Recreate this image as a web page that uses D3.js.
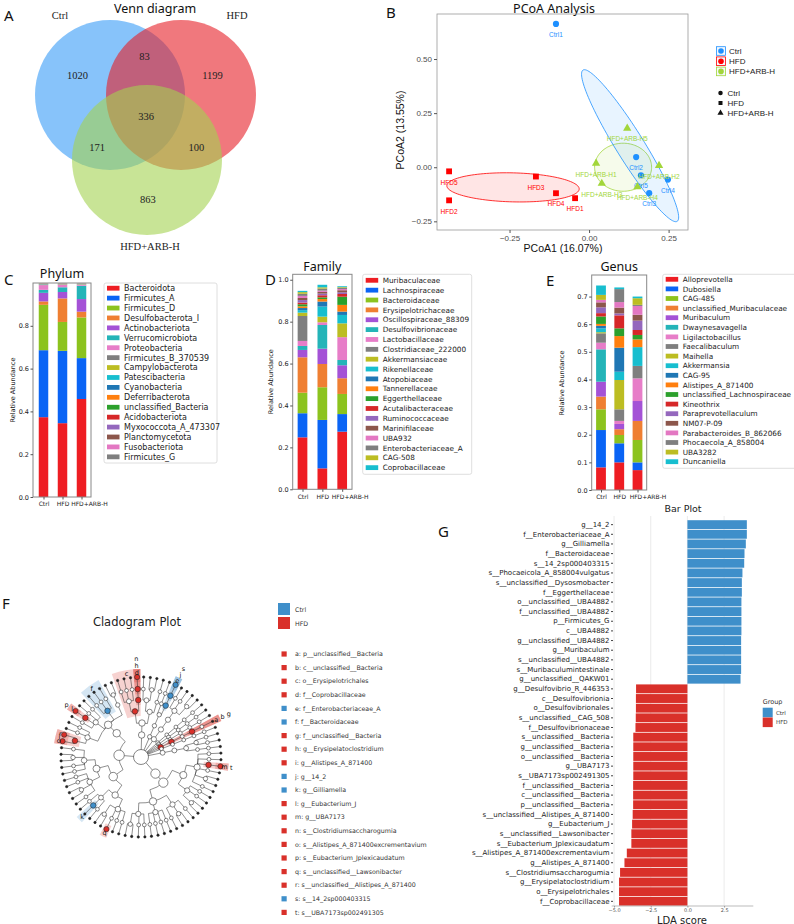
<!DOCTYPE html>
<html>
<head>
<meta charset="utf-8">
<script src="https://cdn.jsdelivr.net/npm/d3@7"></script>
<style>
  body { margin: 0; background: #fff; }
  svg { display: block; }
</style>
</head>
<body>
<svg id="fig" width="794" height="924"></svg>
<script>
// ---------------- data ----------------
const samples = ["Ctrl", "HFD", "HFD+ARB-H"];

// A. Venn
const vennSets = ["Ctrl", "HFD", "HFD+ARB-H"];
const vennRegions = [["Ctrl"], ["HFD"], ["HFD+ARB-H"], ["Ctrl", "HFD"], ["Ctrl", "HFD+ARB-H"], ["HFD", "HFD+ARB-H"], ["Ctrl", "HFD", "HFD+ARB-H"]];
const vennCounts = [1020, 1199, 863, 83, 171, 100, 336];

// B. PCoA
const pcoaSamples = ["Ctrl1", "Ctrl2", "Ctrl3", "Ctrl4", "Ctrl5", "HFD1", "HFD2", "HFD3", "HFD4", "HFD5",
  "HFD+ARB-H1", "HFD+ARB-H2", "HFD+ARB-H3", "HFD+ARB-H4", "HFD+ARB-H5"];
const pcoaGroups = ["Ctrl", "Ctrl", "Ctrl", "Ctrl", "Ctrl", "HFD", "HFD", "HFD", "HFD", "HFD",
  "HFD+ARB-H", "HFD+ARB-H", "HFD+ARB-H", "HFD+ARB-H", "HFD+ARB-H"];
const pcoa1 = [-0.104, 0.148, 0.189, 0.248, 0.163, -0.044, -0.44, -0.167, -0.104, -0.44, 0.022, 0.22, 0.04, 0.152, 0.12];
const pcoa2 = [0.662, 0.047, -0.12, -0.057, -0.037, -0.143, -0.153, -0.043, -0.12, -0.019, 0.018, 0.008, -0.075, -0.091, 0.18];
// confidence ellipses: centre and two semi-axis vectors, in PCoA units
const ellipseGroups = ["HFD", "HFD+ARB-H", "Ctrl"];
const ellipseCentre = [[-0.239, -0.093], [0.107, 0.0], [0.129, 0.0995]];
const ellipseAxisA = [[0.208, -0.0076], [0.0896, 0], [0.148, -0.3495]];
const ellipseAxisB = [[0.0011, 0.067], [0, 0.111], [0.0374, 0.0343]];
const pcoaTicksX = [-0.25, 0, 0.25];
const pcoaTicksY = [-0.25, 0, 0.25, 0.5];

// C. Phylum
const phylumTaxa = ["Bacteroidota", "Firmicutes_A", "Firmicutes_D", "Desulfobacterota_I", "Actinobacteriota", "Verrucomicrobiota",
  "Proteobacteria", "Firmicutes_B_370539", "Campylobacterota", "Patescibacteria", "Cyanobacteria", "Deferribacterota",
  "unclassified_Bacteria", "Acidobacteriota", "Myxococcota_A_473307", "Planctomycetota", "Fusobacteriota", "Firmicutes_G"];
const phylumCtrl = [0.373, 0.313, 0.212, 0.016, 0.040, 0.014, 0.022, 0.002, 0.001, 0.001, 0.001, 0.001, 0.001, 0.0005, 0.0005, 0.0003, 0.0002, 0.0003];
const phylumHFD = [0.345, 0.338, 0.135, 0.110, 0.030, 0.022, 0.012, 0.002, 0.001, 0.001, 0.0005, 0.001, 0.0005, 0.0003, 0.0003, 0.0002, 0.0002, 0.0002];
const phylumARB = [0.458, 0.191, 0.190, 0.027, 0.059, 0.062, 0.005, 0.002, 0.001, 0.001, 0.0005, 0.0005, 0.0005, 0.0003, 0.0003, 0.0002, 0.0002, 0.0002];
const phylumTicks = [0, 0.2, 0.4, 0.6, 0.8];

// D. Family
const familyTaxa = ["Muribaculaceae", "Lachnospiraceae", "Bacteroidaceae", "Erysipelotrichaceae", "Oscillospiraceae_88309",
  "Desulfovibrionaceae", "Lactobacillaceae", "Clostridiaceae_222000", "Akkermansiaceae", "Rikenellaceae", "Atopobiaceae",
  "Tannerellaceae", "Eggerthellaceae", "Acutalibacteraceae", "Ruminococcaceae", "Marinifilaceae", "UBA932",
  "Enterobacteriaceae_A", "CAG-508", "Coprobacillaceae"];
const familyCtrl = [0.248, 0.115, 0.098, 0.169, 0.035, 0.019, 0.024, 0.119, 0.016, 0.012, 0.010, 0.008, 0.010, 0.008, 0.012, 0.010, 0.010, 0.010, 0.008, 0.006];
const familyHFD = [0.100, 0.231, 0.156, 0.111, 0.073, 0.113, 0.013, 0.0, 0.027, 0.048, 0.024, 0.012, 0.008, 0.010, 0.008, 0.008, 0.006, 0.010, 0.006, 0.012];
const familyARB = [0.275, 0.084, 0.096, 0.075, 0.062, 0.025, 0.109, 0.0, 0.066, 0.040, 0.016, 0.032, 0.039, 0.013, 0.008, 0.010, 0.006, 0.006, 0.003, 0.004];
const familyTicks = [0, 0.2, 0.4, 0.6, 0.8, 1.0];

// E. Genus
const genusTaxa = ["Alloprevotella", "Dubosiella", "CAG-485", "unclassified_Muribaculaceae", "Muribaculum", "Dwaynesavagella",
  "Ligilactobacillus", "Faecalibaculum", "Maihella", "Akkermansia", "CAG-95", "Alistipes_A_871400",
  "unclassified_Lachnospiraceae", "Kineothrix", "Paraprevotellaculum", "NM07-P-09", "Parabacteroides_B_862066",
  "Phocaecola_A_858004", "UBA3282", "Duncaniella"];
const genusCtrl = [0.082, 0.135, 0.075, 0.046, 0.054, 0.117, 0.024, 0.034, 0.004, 0.014, 0.009, 0.007, 0.027, 0.012, 0.021, 0.018, 0.009, 0.0, 0.018, 0.034];
const genusHFD = [0.100, 0.069, 0.030, 0.021, 0.019, 0.0, 0.011, 0.042, 0.106, 0.030, 0.087, 0.042, 0.028, 0.047, 0.007, 0.021, 0.020, 0.047, 0.0, 0.006];
const genusARB = [0.072, 0.028, 0.081, 0.069, 0.072, 0.0, 0.082, 0.045, 0.0, 0.068, 0.0, 0.028, 0.016, 0.018, 0.034, 0.021, 0.032, 0.004, 0.024, 0.006];
const genusTicks = [0, 0.1, 0.2, 0.3, 0.4, 0.5, 0.6, 0.7];

// F. Cladogram (tree shape; unnamed inner clades carry short ids)
const cladeLeaves = [
  "p1/c1/o__Erysipelotrichales/f1/g1/s1", "p1/c1/o__Erysipelotrichales/f1/g2/s1", "p1/c1/o__Erysipelotrichales/f1/g3/s1",
  "p1/c1/o__Erysipelotrichales/f__Coprobacillaceae/g__Erysipelatoclostridium/s__Clostridiumsaccharogumia",
  "p1/c1/o2/f2/g1/s1", "p1/c1/o2/f2/g2/s1", "p1/c1/o2/f2/g2/s2", "p1/c1/o2/f3/g1/s1",
  "p2/c1/o1/f1/g1/s1", "p2/c1/o1/f__Enterobacteriaceae_A/g__14_2/s__14_2sp000403315",
  "p3/c1/o1/f1/g1/s1", "p3/c1/o1/f1/g2/s1", "p3/c1/o1/f1/g3/s1", "p3/c1/o1/f1/g3/s2",
  "p4/c1/o1/f1/g1/s1", "p5/c1/o1/f1/g1/s1", "p6/c1/o1/f1/g1/s1",
  "p__unclassified__Bacteria/c__unclassified__Bacteria/o__unclassified__Bacteria/f__unclassified__Bacteria/g__unclassified__Bacteria/s__unclassified__Bacteria",
  "p7/c1/o1/f1/g1/s1", "p8/c1/o1/f1/g1/s1", "p8/c1/o1/f1/g2/s1", "p8/c1/o1/f2/g1/s1",
  "p9/c1/o1/f1/g1/s1", "p9/c1/o1/f1/g2/s1", "p9/c1/o1/f1/g__UBA7173/s__UBA7173sp002491305", "p9/c1/o1/f1/g4/s1",
  "p9/c1/o1/f1/g5/s1", "p9/c1/o1/f1/g5/s2", "p9/c1/o1/f1/g6/s1", "p9/c1/o1/f2/g1/s1", "p9/c1/o1/f2/g2/s1",
  "p9/c1/o1/f2/g3/s1", "p9/c1/o1/f2/g3/s2", "p9/c1/o2/f3/g1/s1", "p9/c1/o2/f3/g2/s1", "p9/c1/o2/f3/g2/s2",
  "p9/c1/o2/f3/g3/s1", "p9/c1/o2/f4/g1/s1", "p9/c1/o2/f4/g2/s1", "p9/c1/o2/f4/g3/s1", "p9/c1/o2/f4/g4/s1",
  "p9/c1/o2/f5/g1/s1", "p9/c1/o2/f5/g2/s1", "p9/c1/o2/f5/g3/s1", "p9/c1/o2/f5/g3/s2",
  "p10/c1/o1/f1/g1/s1", "p10/c1/o1/f1/g2/s1", "p10/c1/o1/f1/g3/s__unclassified__Lawsonibacter", "p10/c1/o1/f1/g4/s1",
  "p10/c1/o1/f1/g4/s2", "p10/c1/o1/f2/g1/s1", "p10/c1/o1/f2/g__Gilliamella/s1", "p10/c1/o1/f2/g2/s1",
  "p10/c1/o2/f3/g1/s1", "p10/c1/o2/f3/g2/s1", "p10/c1/o2/f3/g2/s2", "p10/c1/o2/f3/g3/s1", "p10/c1/o2/f3/g4/s1",
  "p10/c1/o2/f4/g1/s1", "p10/c1/o2/f4/g2/s1", "p10/c1/o2/f4/g3/s1", "p10/c1/o2/f4/g3/s2", "p10/c1/o2/f4/g4/s1",
  "p10/c2/o3/f5/g__Alistipes_A_871400/s__Alistipes_A_871400excrementavium",
  "p10/c2/o3/f5/g__Alistipes_A_871400/s__unclassified__Alistipes_A_871400",
  "p10/c2/o3/f5/g1/s1", "p10/c2/o3/f5/g2/s1", "p10/c2/o3/f6/g1/s1",
  "p10/c2/o3/f6/g__Eubacterium_J/s__Eubacterium_Jplexicaudatum", "p10/c2/o3/f6/g2/s1", "p10/c2/o3/f6/g3/s1",
  "p10/c2/o3/f__Bacteroidaceae/g1/s1", "p10/c2/o3/f__Bacteroidaceae/g2/s1", "p10/c2/o3/f__Bacteroidaceae/g3/s1",
  "p10/c2/o3/f7/g1/s1", "p10/c2/o3/f7/g1/s2"
];
const cladeLetters = "abcdefghijklmnopqrst".split("");
const cladeMarkers = ["p__unclassified__Bacteria", "c__unclassified__Bacteria", "o__Erysipelotrichales", "f__Coprobacillaceae",
  "f__Enterobacteriaceae_A", "f__Bacteroidaceae", "f__unclassified__Bacteria", "g__Erysipelatoclostridium",
  "g__Alistipes_A_871400", "g__14_2", "g__Gilliamella", "g__Eubacterium_J", "g__UBA7173", "s__Clostridiumsaccharogumia",
  "s__Alistipes_A_871400excrementavium", "s__Eubacterium_Jplexicaudatum", "s__unclassified__Lawsonibacter",
  "s__unclassified__Alistipes_A_871400", "s__14_2sp000403315", "s__UBA7173sp002491305"];
const cladeMarkerGroup = ["HFD", "HFD", "HFD", "HFD", "Ctrl", "Ctrl", "HFD", "HFD", "HFD", "Ctrl",
  "Ctrl", "HFD", "HFD", "HFD", "HFD", "HFD", "HFD", "HFD", "Ctrl", "HFD"];

// G. LDA bar plot
const ldaFeatures = ["g__14_2", "f__Enterobacteriaceae_A", "g__Gilliamella", "f__Bacteroidaceae", "s__14_2sp000403315",
  "s__Phocaeicola_A_858004vulgatus", "s__unclassified__Dysosmobacter", "f__Eggerthellaceae", "o__unclassified__UBA4882",
  "f__unclassified__UBA4882", "p__Firmicutes_G", "c__UBA4882", "g__unclassified__UBA4882", "g__Muribaculum",
  "s__unclassified__UBA4882", "s__Muribaculumintestinale", "g__unclassified__QAKW01",
  "g__Desulfovibrio_R_446353", "c__Desulfovibrionia", "o__Desulfovibrionales", "s__unclassified__CAG_508",
  "f__Desulfovibrionaceae", "s__unclassified__Bacteria", "g__unclassified__Bacteria", "o__unclassified__Bacteria",
  "g__UBA7173", "s__UBA7173sp002491305", "f__unclassified__Bacteria", "c__unclassified__Bacteria",
  "p__unclassified__Bacteria", "s__unclassified__Alistipes_A_871400", "g__Eubacterium_J",
  "s__unclassified__Lawsonibacter", "s__Eubacterium_Jplexicaudatum", "s__Alistipes_A_871400excrementavium",
  "g__Alistipes_A_871400", "s__Clostridiumsaccharogumia", "g__Erysipelatoclostridium", "o__Erysipelotrichales",
  "f__Coprobacillaceae"];
const ldaScores = [4.05, 4.05, 3.98, 3.89, 3.87, 3.75, 3.71, 3.71, 3.68, 3.68, 3.68, 3.68, 3.66, 3.66, 3.66, 3.66, 3.62,
  -3.50, -3.51, -3.51, -3.52, -3.54, -3.69, -3.69, -3.69, -3.69, -3.69, -3.70, -3.70, -3.70, -3.73, -3.77,
  -3.82, -3.82, -4.13, -4.29, -4.59, -4.66, -4.66, -4.66];
const ldaTicks = [-5.0, -2.5, 0.0, 2.5];

// ---------------- styles ----------------
const palette20 = ["#ee1d23", "#0a64f5", "#8cc31e", "#ef7f32", "#a452d6", "#24b4b8", "#e77dc8", "#7f7f7f", "#bcbd22", "#17becf",
  "#1f77b4", "#ff7f0e", "#2ca02c", "#d62728", "#9467bd", "#8c564b", "#e377c2", "#7f7f7f", "#bcbd22", "#17becf"];
const vennColors = {"Ctrl": "#379bf7", "HFD": "#e61e26", "HFD+ARB-H": "#a3d250"};
const pcoaColors = {"Ctrl": "#1e90ff", "HFD": "#ff0000", "HFD+ARB-H": "#a2d63a"};
const pcoaShapes = {"Ctrl": d3.symbolCircle, "HFD": d3.symbolSquare, "HFD+ARB-H": d3.symbolTriangle};
const lefseColors = {"Ctrl": "#3f8fca", "HFD": "#d9302a"};
const SANS = "DejaVu Sans, sans-serif";
const TITLE = "Noto Sans, DejaVu Sans, sans-serif";
const ARIAL = "Liberation Sans, Arial, sans-serif";
const SERIF = "Liberation Serif, Times New Roman, serif";

const svg = d3.select("#fig");
svg.append("rect").attr("width", 794).attr("height", 924).attr("fill", "#fff");

function txt(g, x, y, s, o = {}) {
  return g.append("text").attr("x", x).attr("y", y).text(s)
    .attr("font-family", o.ff || SANS).attr("font-size", o.fs || 10)
    .attr("fill", o.fill || "#111").attr("text-anchor", o.anchor || "start")
    .attr("font-weight", o.fw || "normal");
}

// panel letters
[["A", 4, 20.5], ["B", 386, 18], ["C", 4, 285], ["D", 265, 285], ["E", 546, 286], ["F", 2, 609], ["G", 438, 536.5]]
  .forEach(([s, x, y]) => txt(svg, x, y, s, {ff: TITLE, fs: 15}));

// ---------------- A: Venn ----------------
{
  const g = svg.append("g");
  const r = 75;
  const centres = {"Ctrl": [110, 95], "HFD": [181, 95], "HFD+ARB-H": [147, 160]};
  const nameAt = {"Ctrl": [60, 19], "HFD": [237, 19], "HFD+ARB-H": [150, 250]};
  txt(g, 155, 13, "Venn diagram", {ff: TITLE, fs: 12.5, anchor: "middle"});
  g.selectAll("circle").data(vennSets).join("circle")
    .attr("cx", d => centres[d][0]).attr("cy", d => centres[d][1]).attr("r", r)
    .attr("fill", d => vennColors[d]).attr("fill-opacity", 0.6);
  vennSets.forEach(s => txt(g, nameAt[s][0], nameAt[s][1], s, {ff: SERIF, fs: 10.5, anchor: "middle", fill: "#222"}));
  const mean = pts => [d3.mean(pts, p => p[0]), d3.mean(pts, p => p[1])];
  vennRegions.forEach((reg, i) => {
    const inside = mean(reg.map(s => centres[s]));
    const rest = vennSets.filter(s => !reg.includes(s));
    let p = inside;
    if (rest.length) {
      const out = mean(rest.map(s => centres[s]));
      p = [inside[0] + 0.6 * (inside[0] - out[0]), inside[1] + 0.6 * (inside[1] - out[1])];
    }
    txt(g, p[0], p[1] + 3.5, vennCounts[i], {ff: SERIF, fs: 10.5, anchor: "middle", fill: "#222"});
  });
}

// ---------------- B: PCoA ----------------
{
  const g = svg.append("g");
  const x = d3.scaleLinear().domain([-0.478, 0.311]).range([437, 688]);
  const y = d3.scaleLinear().domain([-0.29, 0.708]).range([230, 14]);
  txt(g, 554, 12.5, "PCoA Analysis", {ff: TITLE, fs: 12.5, anchor: "middle"});
  const line = d3.line().x(d => x(d[0])).y(d => y(d[1])).curve(d3.curveLinearClosed);
  ellipseGroups.forEach((grp, i) => {
    const c = ellipseCentre[i], a = ellipseAxisA[i], b = ellipseAxisB[i];
    const pts = d3.range(0, 2 * Math.PI, Math.PI / 60).map(t =>
      [c[0] + a[0] * Math.cos(t) + b[0] * Math.sin(t), c[1] + a[1] * Math.cos(t) + b[1] * Math.sin(t)]);
    g.append("path").attr("d", line(pts)).attr("fill", pcoaColors[grp]).attr("fill-opacity", 0.1)
      .attr("stroke", pcoaColors[grp]).attr("stroke-width", 0.8);
  });
  g.append("rect").attr("x", 437).attr("y", 14).attr("width", 251).attr("height", 216)
    .attr("fill", "none").attr("stroke", "#999").attr("stroke-width", 0.8);
  const ax = g.append("g").attr("transform", "translate(0,230)")
    .call(d3.axisBottom(x).tickValues(pcoaTicksX).tickFormat(d3.format(".2f")).tickSize(3).tickPadding(2));
  const ay = g.append("g").attr("transform", "translate(437,0)")
    .call(d3.axisLeft(y).tickValues(pcoaTicksY).tickFormat(d3.format(".2f")).tickSize(3).tickPadding(2));
  [ax, ay].forEach(a => {
    a.select(".domain").remove();
    a.selectAll("line").attr("stroke", "#555");
    a.selectAll("text").attr("font-family", ARIAL).attr("font-size", 8).attr("fill", "#4d4d4d");
  });
  txt(g, 563, 252, "PCoA1 (16.07%)", {ff: ARIAL, fs: 10.5, anchor: "middle"});
  txt(g, 0, 0, "PCoA2 (13.55%)", {ff: ARIAL, fs: 10.5, anchor: "middle"})
    .attr("transform", "translate(404,130) rotate(-90)");
  const sym = d3.symbol();
  pcoaSamples.forEach((s, i) => {
    const grp = pcoaGroups[i], px = x(pcoa1[i]), py = y(pcoa2[i]);
    g.append("path").attr("transform", `translate(${px},${py})`)
      .attr("d", sym.type(pcoaShapes[grp]).size(grp === "HFD" ? 34 : 30)())
      .attr("fill", pcoaColors[grp]);
    txt(g, px, py + 13.2, s, {ff: ARIAL, fs: 6.5, anchor: "middle", fill: pcoaColors[grp]});
  });
  // legends
  ["Ctrl", "HFD", "HFD+ARB-H"].forEach((grp, i) => {
    const yy = 51 + i * 10.2;
    g.append("rect").attr("x", 716.5).attr("y", yy - 4.3).attr("width", 9).attr("height", 8.6)
      .attr("fill", "#f4f8fc").attr("stroke", pcoaColors[grp]).attr("stroke-width", 0.8);
    g.append("circle").attr("cx", 721).attr("cy", yy).attr("r", 2.8).attr("fill", pcoaColors[grp]);
    txt(g, 729, yy + 2.8, grp, {ff: ARIAL, fs: 8, fill: "#222"});
    const sy = 93 + i * 10;
    g.append("path").attr("transform", `translate(720.5,${sy})`)
      .attr("d", sym.type(pcoaShapes[grp]).size(16)()).attr("fill", "#111");
    txt(g, 727.5, sy + 2.8, grp, {ff: ARIAL, fs: 8, fill: "#222"});
  });
}

// ---------------- C, D, E: stacked bars ----------------
function drawStack(o) {
  const g = svg.append("g");
  const rows = samples.map((s, i) => {
    const r = {sample: s};
    o.taxa.forEach((t, j) => { r[t] = o.vals[i][j]; });
    return r;
  });
  const series = d3.stack().keys(o.taxa)(rows);
  const x = d3.scalePoint().domain(samples).range(o.xr);
  const y = d3.scaleLinear().domain([0, o.ymax]).range([o.y0, o.y1]);
  txt(g, (o.box[0] + o.box[1]) / 2, o.titleY, o.title, {ff: TITLE, fs: 12.5, anchor: "middle"});
  g.append("g").selectAll("g").data(series).join("g").attr("fill", (d, i) => palette20[i])
    .selectAll("rect").data(d => d).join("rect")
    .attr("x", d => x(d.data.sample) - o.bw / 2).attr("width", o.bw)
    .attr("y", d => y(d[1])).attr("height", d => Math.max(0, y(d[0]) - y(d[1])));
  g.append("rect").attr("x", o.box[0]).attr("y", o.y1).attr("width", o.box[1] - o.box[0]).attr("height", o.y0 - o.y1)
    .attr("fill", "none").attr("stroke", "#888").attr("stroke-width", 1);
  const ay = g.append("g").attr("transform", `translate(${o.box[0]},0)`)
    .call(d3.axisLeft(y).tickValues(o.ticks).tickFormat(d3.format(".1f")).tickSize(2.5).tickPadding(1.5));
  const ax = g.append("g").attr("transform", `translate(0,${o.y0})`)
    .call(d3.axisBottom(x).tickSize(2.5).tickPadding(2.5));
  [ax, ay].forEach(a => {
    a.select(".domain").remove();
    a.selectAll("line").attr("stroke", "#555");
    a.selectAll("text").attr("font-family", SANS).attr("font-size", 6.5).attr("fill", "#222");
  });
  ax.selectAll("text").attr("font-size", 6);
  ax.selectAll("text").filter(d => d === "HFD+ARB-H").attr("dx", o.shift);
  txt(g, 0, 0, "Relative Abundance", {fs: 6.5, anchor: "middle", fill: "#222"})
    .attr("transform", `translate(${o.ylab[0]},${o.ylab[1]}) rotate(-90)`);
  const L = o.legend;
  g.append("rect").attr("x", L.x).attr("y", L.y).attr("width", L.w).attr("height", L.h).attr("rx", 2)
    .attr("fill", "#fff").attr("stroke", "#d6d6d6").attr("stroke-width", 0.8);
  o.taxa.forEach((t, i) => {
    const yy = L.first + i * L.step;
    g.append("rect").attr("x", L.x + 3).attr("y", yy - 2.4).attr("width", 12.5).attr("height", 4.8).attr("fill", palette20[i]);
    txt(g, L.x + 20, yy + L.fs * 0.36, t, {fs: L.fs, fill: "#222"});
  });
}

drawStack({title: "Phylum", titleY: 277.5, taxa: phylumTaxa, vals: [phylumCtrl, phylumHFD, phylumARB],
  box: [33, 91], xr: [43.5, 81.5], bw: 9.5, y0: 497, y1: 283, ymax: 1.0, ticks: phylumTicks, shift: 7.5,
  ylab: [15, 390], legend: {x: 104, y: 283, w: 113, h: 180, first: 288.2, step: 9.92, fs: 8}});
drawStack({title: "Family", titleY: 270.5, taxa: familyTaxa, vals: [familyCtrl, familyHFD, familyARB],
  box: [292.7, 352], xr: [302.5, 342.2], bw: 9.7, y0: 489.3, y1: 274.3, ymax: 1.026, ticks: familyTicks, shift: 7.5,
  ylab: [272.5, 381.7], legend: {x: 362.7, y: 274.3, w: 109, h: 200, first: 280.3, step: 9.86, fs: 7.3}});
drawStack({title: "Genus", titleY: 271, taxa: genusTaxa, vals: [genusCtrl, genusHFD, genusARB],
  box: [591.7, 646.7], xr: [601, 637.5], bw: 9.8, y0: 490, y1: 275, ymax: 0.778, ticks: genusTicks, shift: 10,
  ylab: [563.5, 383], legend: {x: 662.7, y: 274.3, w: 140, h: 194, first: 279.3, step: 9.6, fs: 7.3}});

// ---------------- F: cladogram ----------------
{
  const g = svg.append("g");
  const cx = 141, cy = 757;
  const levelR = [0, 22, 34, 46, 57, 68, 80];
  txt(g, 137, 626, "Cladogram Plot", {fs: 11.5, anchor: "middle", fill: "#222"});

  const table = new Map([["root", {id: "root", parent: "", name: "root"}]]);
  cladeLeaves.forEach(path => {
    const parts = path.split("/");
    parts.forEach((name, k) => {
      const id = parts.slice(0, k + 1).join("/");
      if (!table.has(id)) table.set(id, {id, parent: k ? parts.slice(0, k).join("/") : "root", name});
    });
  });
  const root = d3.stratify().id(d => d.id).parentId(d => d.parent || null)([...table.values()]);
  root.count();
  d3.cluster().size([2 * Math.PI, 1]).separation(() => 1)(root);
  const step = 2 * Math.PI / root.leaves().length;
  const rot = -17 * Math.PI / 180 - step / 2;
  const ang = d => d.x + rot;
  const rad = d => levelR[d.depth];
  const pt = (a, r) => { const p = d3.pointRadial(a, r); return [cx + p[0], cy + p[1]]; };
  const markerIdx = d => cladeMarkers.indexOf(d.data.name);
  const markers = root.descendants().filter(d => markerIdx(d) >= 0)
    .sort((a, b) => markerIdx(a) - markerIdx(b));
  const col = d => lefseColors[cladeMarkerGroup[markerIdx(d)]];

  const arc = d3.arc();
  g.append("g").attr("transform", `translate(${cx},${cy})`)
    .selectAll("path").data(markers).join("path")
    .attr("d", d => {
      const lv = d.leaves();
      return arc({innerRadius: Math.max(0, rad(d) - 5), outerRadius: 88,
        startAngle: ang(lv[0]) - step / 2, endAngle: ang(lv[lv.length - 1]) + step / 2});
    })
    .attr("fill", col).attr("fill-opacity", 0.22);

  g.append("g").selectAll("path").data(root.links()).join("path")
    .attr("d", ({source: s, target: t}) => {
      const r0 = rad(s), a0 = ang(s), a1 = ang(t), r1 = rad(t);
      const p0 = pt(a0, r0), p1 = pt(a1, r0), p2 = pt(a1, r1);
      if (r0 === 0) return `M${p0}L${p2}`;
      return `M${p0}A${r0},${r0} 0 0 ${a1 > a0 ? 1 : 0} ${p1}L${p2}`;
    })
    .attr("fill", "none").attr("stroke", "#333").attr("stroke-width", 0.55);

  const rS = d3.scaleSqrt().domain([1, root.value]).range([1.9, 7.5]);
  g.append("g").selectAll("circle").data(root.descendants()).join("circle")
    .attr("cx", d => pt(ang(d), rad(d))[0]).attr("cy", d => pt(ang(d), rad(d))[1])
    .attr("r", d => {
      const m = markerIdx(d) >= 0;
      if (!d.children) return m ? 2.6 : 1.2;
      return m ? Math.max(2.8, rS(d.value)) : rS(d.value);
    })
    .attr("fill", d => markerIdx(d) >= 0 ? col(d) : (d.children ? "#fff" : "#222"))
    .attr("stroke", "#222").attr("stroke-width", 0.55);

  // letters: nested clades sharing an angle are stacked outward
  const placed = [];
  markers.forEach(d => {
    const lv = d.leaves();
    const a = (ang(lv[0]) + ang(lv[lv.length - 1])) / 2;
    const k = placed.filter(p => Math.abs(p - a) < 0.03).length;
    placed.push(a);
    const p = pt(a, 84 + 7 * k);
    txt(g, p[0], p[1] + 2.2, cladeLetters[markerIdx(d)], {fs: 6.5, anchor: "middle", fill: "#111"});
  });

  // legend
  ["Ctrl", "HFD"].forEach((grp, i) => {
    g.append("rect").attr("x", 278).attr("y", 603 + i * 14).attr("width", 12).attr("height", 12).attr("fill", lefseColors[grp]);
    txt(g, 295, 611.5 + i * 14, grp, {fs: 6.3, fill: "#333"});
  });
  cladeMarkers.forEach((name, i) => {
    const yy = 654 + i * 13.6;
    g.append("rect").attr("x", 281.5).attr("y", yy - 2.6).attr("width", 5.2).attr("height", 5.2)
      .attr("fill", lefseColors[cladeMarkerGroup[i]]);
    txt(g, 295, yy + 2.2, `${cladeLetters[i]}: ${name}`, {fs: 6.3, fill: "#333"});
  });
}

// ---------------- G: LDA bar plot ----------------
{
  const g = svg.append("g");
  const x = d3.scaleLinear().domain([-5.16, 4.49]).range([611.7, 753.3]);
  const y = d3.scaleBand().domain(ldaFeatures).range([520.2, 905.8]).paddingInner(0.08);
  txt(g, 683, 512, "Bar Plot", {fs: 9.5, anchor: "middle", fill: "#222"});
  g.append("g").selectAll("line").data(ldaTicks).join("line")
    .attr("x1", d => x(d)).attr("x2", d => x(d)).attr("y1", 516).attr("y2", 906)
    .attr("stroke", "#e6e6e6").attr("stroke-width", 0.8);
  g.append("g").selectAll("rect").data(ldaFeatures).join("rect")
    .attr("x", (d, i) => x(Math.min(0, ldaScores[i])))
    .attr("width", (d, i) => Math.abs(x(ldaScores[i]) - x(0)))
    .attr("y", d => y(d)).attr("height", y.bandwidth())
    .attr("fill", (d, i) => ldaScores[i] > 0 ? lefseColors.Ctrl : lefseColors.HFD);
  const ay = g.append("g").attr("transform", "translate(613,0)")
    .call(d3.axisLeft(y).tickSize(2).tickPadding(1.5));
  ay.select(".domain").remove();
  ay.selectAll("line").attr("stroke", "#444");
  ay.selectAll("text").attr("font-family", SANS).attr("font-size", 7).attr("fill", "#222");
  const ax = g.append("g").attr("transform", "translate(0,906)")
    .call(d3.axisBottom(x).tickValues(ldaTicks).tickFormat(d3.format(".1f")).tickSize(1.5).tickPadding(1));
  ax.select(".domain").attr("stroke", "#bbb").attr("d", `M${x.range()[0]},0H${x.range()[1]}`);
  ax.selectAll("line").attr("stroke", "#999");
  ax.selectAll("text").attr("font-family", SANS).attr("font-size", 5).attr("fill", "#555");
  txt(g, 682, 923.5, "LDA score", {fs: 10, anchor: "middle", fill: "#222"});
  txt(g, 762.7, 704, "Group", {fs: 6.5, fill: "#333"});
  ["Ctrl", "HFD"].forEach((grp, i) => {
    g.append("rect").attr("x", 762.7).attr("y", 707.7 + i * 9.8).attr("width", 10).attr("height", 9.6).attr("fill", lefseColors[grp]);
    txt(g, 776, 714.5 + i * 9.8, grp, {fs: 5.5, fill: "#333"});
  });
}
</script>
</body>
</html>
